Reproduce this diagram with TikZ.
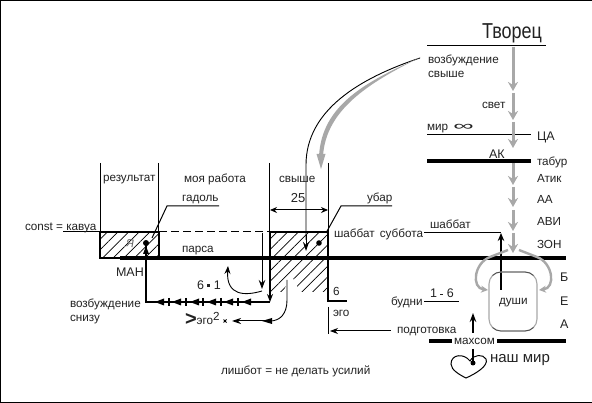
\documentclass[tikz,border=0pt]{standalone}
\usepackage{fontspec}
\setmainfont{Liberation Sans}
\usetikzlibrary{arrows.meta,patterns.meta}
\definecolor{txt}{HTML}{222222}
\definecolor{arrowgray}{HTML}{A8A8A8}
\tikzset{
 lbl/.style={anchor=mid west,inner sep=0pt,outer sep=0pt,yshift=-2pt,text=txt,font=\fontsize{11.7}{13}\selectfont},
 clbl/.style={lbl,anchor=mid},
 biglbl/.style={lbl,font=\fontsize{12.5}{14}\selectfont},
 thinl/.style={black,line width=1pt},
 thickbar/.style={black,line width=4.6pt},
 boxl/.style={black,line width=2.2pt},
 medl/.style={black,line width=2pt},
 blackarrow/.style={black,line width=1pt,-{Stealth[length=9pt,width=6.5pt]}},
 grayseg/.style={arrowgray,line width=3pt,-{Stealth[length=9pt,width=10pt]}},
 hatch/.style={pattern={Lines[angle=45,distance=7.5pt,line width=0.7pt]},pattern color=black},
}
\begin{document}
\begin{tikzpicture}[x=1pt,y=-1pt]
\useasboundingbox (0,0) rectangle (592,403);
\fill[white] (0,0) rectangle (592,403);
\draw[black,line width=1pt] (592,0.5) -- (0.5,0.5) -- (0.5,402.5) -- (592,402.5);
% hatched boxes
\fill[hatch] (100,232) rectangle (159,258);
\fill[hatch] (270,232) rectangle (328,258);
\fill[hatch] (270,258) rectangle (328,292);
\fill[white] (283,293) -- (297,293) -- (297,283) -- (290,276) -- cycle;
% vertical guides
\draw[thinl] (100.5,163) -- (100.5,232);
\draw[thinl] (158.5,163) -- (158.5,232);
\draw[thinl] (269.5,163) -- (269.5,232);
\draw[thinl] (328.5,163) -- (328.5,232);
% box frames
\draw[boxl] (120,258) -- (100,258) -- (100,232) -- (159,232) -- (159,258);
\draw[boxl] (270,300) -- (270,232) -- (328,232) -- (328,301) -- (347,301);
\draw[thinl,dash pattern=on 8pt off 4pt] (159,232) -- (270,232);
% main bars
\draw[thickbar] (120,258) -- (566,258);
\draw[thickbar] (427,161) -- (531,161);
\draw[thickbar] (429,341) -- (452,341);
\draw[thickbar] (497,341) -- (566,341);
% top lines
\draw[thinl] (427,46) -- (546,46);
\draw[thinl] (427,135) -- (531,135);
% gray arrows on the light column
\draw[grayseg] (513,47) -- (513,91);
\draw[grayseg] (513,93) -- (513,120);
\draw[grayseg] (513,122) -- (513,148);
\draw[grayseg] (513,163) -- (513,185);
\draw[grayseg] (513,187) -- (513,207);
\draw[grayseg] (513,210) -- (513,231);
\draw[grayseg] (513,233) -- (513,253);
% curves from above
\draw[black,line width=0.9pt] (420,58) .. controls (360,78) and (306,110) .. (306,165) -- (306,240);
\draw[black,line width=0.9pt,-{Stealth[length=9pt,width=6pt]}] (306,235) -- (306,251);
\fill[arrowgray] (421,57) .. controls (365,82) and (322,105) .. (319,156) -- (323,156) .. controls (326,110) and (368,83) .. (421,57) -- cycle;
\fill[arrowgray] (321,169) -- (316.5,154) -- (325.5,154) -- cycle;
% gadol / ubar
\draw[thinl] (219,206) -- (167,206) -- (152,238);
\draw[thinl] (392,206) -- (341,206) -- (326,233);
\draw[thinl,{Stealth[length=7pt,width=6pt]}-{Stealth[length=7pt,width=6pt]}] (270,210) -- (328,210);
\draw[thinl] (63,232) -- (100,232);
% MAN figure and line
\fill[black] (146,243) circle (3pt);
\fill[black] (146,246) -- (143,254) -- (149,254) -- cycle;
\draw[medl] (146,243) -- (146,302) -- (270,302);
\draw[black,line width=1.6pt,-{Stealth[length=8pt,width=6pt]}] (270,258) -- (270,302);
\foreach \tk in {169,186,203,221,238}{
  \draw[black,line width=1.2pt] (\tk,298) -- (\tk,306);
}
\foreach \tp in {155,172,190,207,224,242}{
  \fill[black] (\tp,302) -- (\tp+9,298.5) -- (\tp+9,305.5) -- cycle;
}
\fill[black] (319,243) circle (2.8pt);
% inner arrows
\draw[blackarrow] (262,233) -- (262,289);
\draw[black,line width=0.9pt,-{Stealth[length=8pt,width=6pt]}] (262,291) .. controls (245,296) and (226,296) .. (228,266);
\draw[black,line width=0.9pt] (287,280) -- (287,300) .. controls (287,314) and (280,321) .. (270,321);
\draw[thinl,-{Stealth[length=9pt,width=6pt]}] (272,321) -- (232,321);
\fill[black] (262,321) -- (272,318) -- (272,324) -- cycle;
\draw[black,line width=0.9pt] (225,321) +(-1.5,-1.5) -- +(1.5,1.5) +(-1.5,1.5) -- +(1.5,-1.5);
% ego
\draw[thinl] (328.5,307) -- (328.5,334);
\draw[thinl,{Stealth[length=8pt,width=6pt]}-] (330,331) -- (391,331);
% shabbat and weekdays
\draw[thinl] (424,233) -- (501,233);
\draw[black,line width=1.5pt,-{Stealth[length=8pt,width=6.5pt]}] (501,290) -- (501,233);
\draw[thinl] (424,302) -- (459,302);
% souls
\draw[arrowgray,line width=1.1pt] (501,272) -- (525,272) arc (-90:0:12) -- (537,319) arc (0:90:12) -- (501,331) arc (90:180:12) -- (489,284) arc (180:270:12) -- cycle;
\draw[black!70,line width=0.8pt] (492.5,275.5) arc (225:270:12) -- (525,272) arc (-90:-45:12);
\draw[black!70,line width=0.8pt] (492.5,327.5) arc (135:90:12) -- (525,331) arc (90:45:12);
\draw[arrowgray,line width=2.4pt,-{Stealth[length=7pt,width=7pt]}] (508,250) -- (490,257) .. controls (474,263) and (471,288) .. (488,290);
\draw[arrowgray,line width=2.4pt,-{Stealth[length=7pt,width=7pt]}] (519,250) -- (537,257) .. controls (553,263) and (556,288) .. (539,290);
% heart, mahsom
\draw[black,line width=1.5pt,-{Stealth[length=9pt,width=6.5pt]}] (473,333) -- (473,313);
\draw[black,line width=1pt] (470,361) .. controls (464,353) and (451,354) .. (451,364) .. controls (451,370) and (460,375) .. (466,378) .. controls (475,374) and (489,366) .. (486,359) .. controls (483,354) and (474,354) .. (470,361) -- cycle;
\draw[black,line width=1.4pt] (473,349) -- (473,363);
\fill[black] (473,363) circle (2.5pt);
% labels
\node[clbl,yscale=1.2,font=\fontsize{18}{20}\selectfont] (tvorets) at (512,33) {Творец};
\node[lbl] (vozvysh1) at (428,59) {возбуждение};
\node[lbl] (vozvysh2) at (428,73) {свыше};
\node[lbl] (svet) at (482,104) {свет};
\node[lbl] (mir) at (427,126) {мир};
\node[clbl,xscale=2.2,font=\fontsize{13}{14}\selectfont] (inf) at (463.5,125.5) {∞};
\node[biglbl] (tsa) at (537,136) {ЦА};
\node[biglbl] (ak) at (489,154) {АК};
\node[lbl] (tabur) at (537,161) {табур};
\node[lbl] (atik) at (537,178) {Атик};
\node[lbl] (aa) at (537,199) {АА};
\node[lbl] (avi) at (537,221) {АВИ};
\node[lbl] (zon) at (537,244) {ЗОН};
\node[lbl] (rez) at (103,177) {результат};
\node[lbl] (rab) at (184,178) {моя работа};
\node[lbl] (svyshe) at (279,178) {свыше};
\node[lbl] (gadol) at (182,197) {гадоль};
\node[clbl,font=\fontsize{13}{14}\selectfont] (n25) at (298,198) {25};
\node[lbl] (ubar) at (367,197) {убар};
\node[lbl] (const) at (25,226) {const = кавуа};
\node[clbl,rotate=-10,text=black!60,font=\fontsize{11}{12}\selectfont] (ya) at (130,243) {Я};
\node[lbl] (parsa) at (182,248) {парса};
\node[lbl] (shsub) at (334,233) {шаббат\hspace{2pt} суббота};
\node[lbl] (shab) at (430,224) {шаббат};
\node[biglbl] (man) at (116,272) {МАН};
\node[biglbl] (six1) at (197,285) {6 \raisebox{2.5pt}{\rule{3pt}{3pt}} 1};
\node[lbl] (voz1) at (70,303) {возбуждение};
\node[lbl] (voz2) at (70,317) {снизу};
\node[lbl] (ego2) at (185,320) {\fontsize{20}{20}\selectfont\bfseries\raisebox{-1pt}{>}\mdseries\fontsize{11.7}{13}\selectfont эго\raisebox{4pt}{2}};
\node[lbl] (six) at (333,291) {6};
\node[lbl] (ego) at (333,312) {эго};
\node[lbl] (budni) at (391,301) {будни};
\node[biglbl] (n16) at (430,293) {1 \raisebox{2.5pt}{\rule{3pt}{1.5pt}} 6};
\node[lbl] (dushi) at (499,300) {души};
\node[lbl] (podg) at (397,329) {подготовка};
\node[lbl] (mah) at (454,340) {махсом};
\node[lbl,font=\fontsize{15}{18}\selectfont] (nash) at (490,358) {наш мир};
\node[lbl] (lish) at (221,370) {лишбот = не делать усилий};
\node[biglbl] (bb) at (560,277) {Б};
\node[biglbl] (ee) at (560,301) {Е};
\node[biglbl] (aaa) at (560,324) {А};
\end{tikzpicture}
\end{document}
